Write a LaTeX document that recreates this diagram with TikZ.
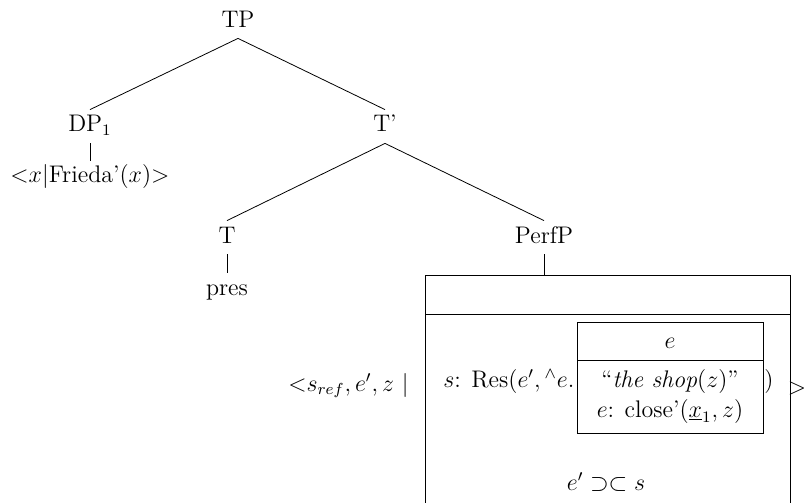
\documentclass[tikz,border=0pt]{standalone}
\usetikzlibrary{positioning}
\begin{document}
\begin{tikzpicture}[x=0.5pt,y=-0.5pt,every node/.style={font=\large,inner sep=0pt},
  tnode/.style={anchor=base,text height=11pt,text depth=5.5pt},
  txt/.style={anchor=base}]
\useasboundingbox (0,0) rectangle (805,503);
\clip (0,0) rectangle (805,503);
% tree
\node[tnode] (TP) at (238,27) {TP};
\node[tnode] (DP) at (90,132) {DP$_1$};
\node[tnode] (Tbar) at (385,132) {T'};
\node[tnode] (frieda) at (90,183) {${<}x|$Frieda'$(x){>}$};
\node[tnode] (T) at (227,243) {T};
\node[tnode] (PerfP) at (544,243) {PerfP};
\node[tnode] (pres) at (227,295) {pres};
\draw (TP.south)--(DP.north);
\draw (TP.south)--(Tbar.north);
\draw (DP.south)--(frieda.north);
\draw (Tbar.south)--(T.north);
\draw (Tbar.south)--(PerfP.north);
\draw (T.south)--(pres.north);
% outer drs
\coordinate (drstop) at (544,275);
\draw (PerfP.south)--(drstop);
\draw (425,275) rectangle (790,520);
\draw (425,314)--(790,314);
\node[txt,anchor=base east] (lam) at (409,391) {${<}s_{ref}, e', z$ $|$};
\node[txt,anchor=base west] (res) at (443,387) {$s$: Res$(e',{}^\wedge e.$};
\node[txt] (rpar) at (769,387) {$)$};
\node[txt] (rang) at (797,394) {$>$};
\node[txt] (cond) at (606,490) {$e' \supset\subset s$};
% inner drs
\draw (577,322) rectangle (763,433);
\draw (577,360)--(763,360);
\node[txt] (ev) at (670,348) {$e$};
\node[txt] (shop) at (670,387) {``\textit{the shop}$(z)$''};
\node[txt] (close) at (670,417) {$e$: close'$(\underline{x}_1, z)$};
\end{tikzpicture}
\end{document}
